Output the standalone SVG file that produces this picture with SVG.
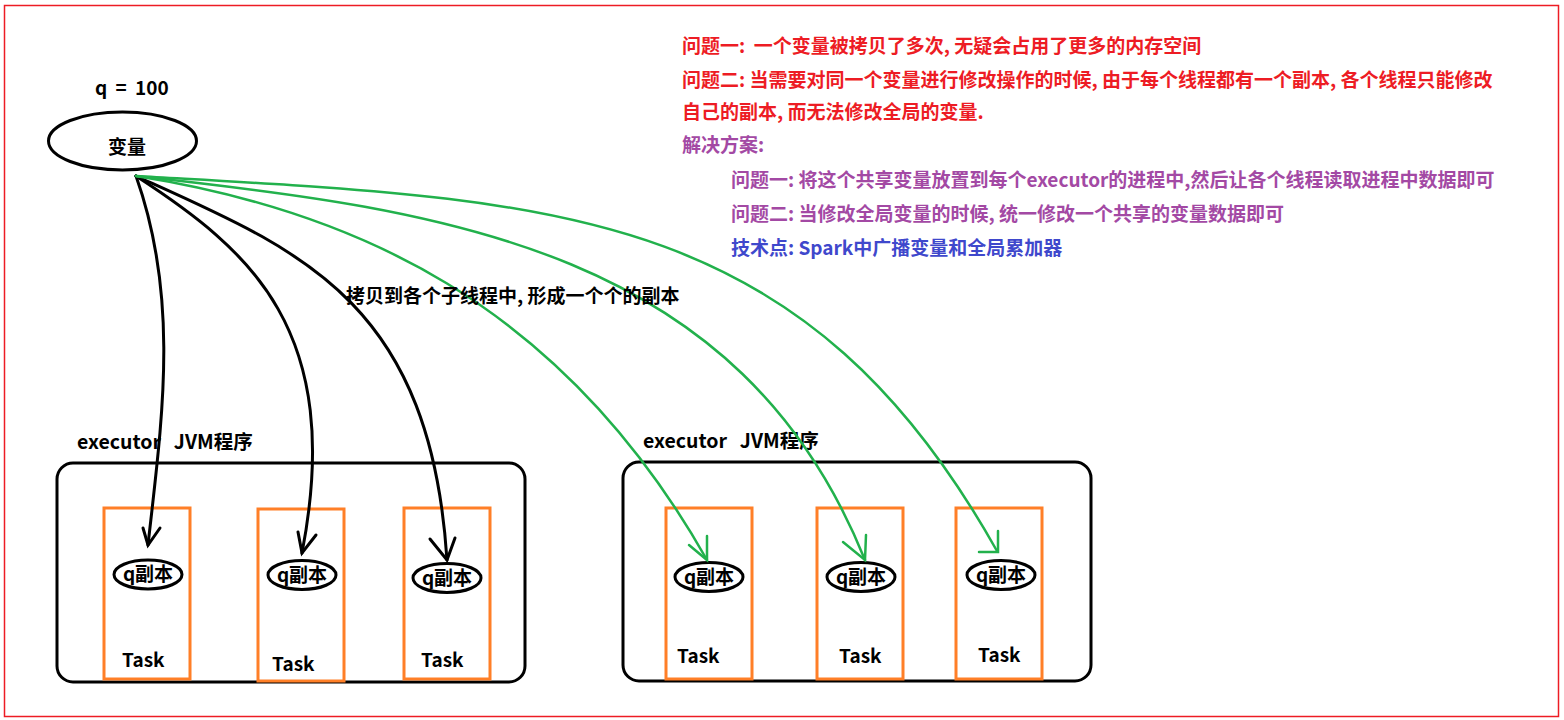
<svg xmlns="http://www.w3.org/2000/svg" width="1564" height="720" viewBox="0 0 1564 720">
<style>
text{font-family:"Noto Sans CJK SC","Microsoft YaHei",sans-serif;font-weight:bold;font-size:19px;fill:#000}
.red{fill:#ed1c24;font-size:19px}
.pur{fill:#a349a4;font-size:19px}
.blu{fill:#3f48cc;font-size:19px}
.lbl{font-size:19.5px;word-spacing:2px}
.box{fill:none;stroke:#000;stroke-width:3}
.task{fill:none;stroke:#ff7f27;stroke-width:3}
.oval{fill:#fff;stroke:#000;stroke-width:3}
.bk{fill:none;stroke:#000;stroke-width:3;stroke-linecap:round}
.gr{fill:none;stroke:#22b14c;stroke-width:2.5;stroke-linecap:round}
</style>
<rect x="0" y="0" width="1564" height="720" fill="#fff"/>
<rect x="4.5" y="5.5" width="1554" height="711" fill="none" stroke="#ed1c24" stroke-width="1.5"/>

<g id="notes">
<text class="red" x="682" y="53" xml:space="preserve">问题一:  一个变量被拷贝了多次, 无疑会占用了更多的内存空间</text>
<text class="red" x="682" y="87">问题二: 当需要对同一个变量进行修改操作的时候, 由于每个线程都有一个副本, 各个线程只能修改</text>
<text class="red" x="682" y="119">自己的副本, 而无法修改全局的变量.</text>
<text class="pur" x="682" y="152">解决方案:</text>
<text class="pur" x="731" y="187">问题一: 将这个共享变量放置到每个executor的进程中,然后让各个线程读取进程中数据即可</text>
<text class="pur" x="731" y="221">问题二: 当修改全局变量的时候, 统一修改一个共享的变量数据即可</text>
<text class="blu" x="731" y="255">技术点: Spark中广播变量和全局累加器</text>
</g>

<g id="var">
<text x="95" y="95" font-size="20" word-spacing="4" xml:space="preserve">q = 100</text>
<ellipse class="oval" cx="122.5" cy="141" rx="74" ry="29"/>
<text x="127" y="154" font-size="19" text-anchor="middle">变量</text>
</g>

<g id="executor1">
<text class="lbl" x="77" y="449" xml:space="preserve">executor  JVM程序</text>
<rect class="box" x="57" y="463" width="468" height="219" rx="16"/>
</g>
<g id="task1-1">
<rect class="task" x="104" y="508" width="86" height="171"/>
<ellipse class="oval" cx="148" cy="574.5" rx="34" ry="14.5"/>
<text x="148" y="581" text-anchor="middle">q副本</text>
<text x="122" y="667">Task</text>
</g>
<g id="task1-2">
<rect class="task" x="258" y="509" width="86" height="172"/>
<ellipse class="oval" cx="302" cy="575" rx="34" ry="14.5"/>
<text x="302" y="582" text-anchor="middle">q副本</text>
<text x="272" y="671">Task</text>
</g>
<g id="task1-3">
<rect class="task" x="404" y="508" width="86" height="171"/>
<ellipse class="oval" cx="447" cy="578" rx="34" ry="14.5"/>
<text x="447" y="585" text-anchor="middle">q副本</text>
<text x="421" y="667">Task</text>
</g>

<g id="executor2">
<text class="lbl" x="643" y="448" xml:space="preserve">executor  JVM程序</text>
<rect class="box" x="623" y="462" width="468" height="219" rx="16"/>
</g>
<g id="task2-1">
<rect class="task" x="666" y="508" width="86" height="171"/>
<ellipse class="oval" cx="709" cy="577" rx="34" ry="14.5"/>
<text x="709" y="584" text-anchor="middle">q副本</text>
<text x="677" y="663">Task</text>
</g>
<g id="task2-2">
<rect class="task" x="817" y="508" width="86" height="171"/>
<ellipse class="oval" cx="861" cy="577" rx="34" ry="14.5"/>
<text x="861" y="584" text-anchor="middle">q副本</text>
<text x="839" y="663">Task</text>
</g>
<g id="task2-3">
<rect class="task" x="956" y="508" width="86" height="171"/>
<ellipse class="oval" cx="1001" cy="575" rx="34" ry="14.5"/>
<text x="1001" y="582" text-anchor="middle">q副本</text>
<text x="978" y="662">Task</text>
</g>

<g id="connectors">
<path class="bk" d="M136,176 C180,300 162,420 148,545"/>
<path class="bk" d="M143,528 L148,545 L160,528"/>
<path class="bk" d="M136,176 C250,250 345,330 302,553"/>
<path class="bk" d="M298,532 L302,553 L316,535"/>
<path class="bk" d="M136,176 C300,250 430,300 447,560"/>
<path class="bk" d="M430,539 L447,560 L455,538"/>
<path class="gr" d="M136,176 C350,210 560,300 707,560"/>
<path class="gr" d="M689,545 L707,560 L707,536"/>
<path class="gr" d="M136,176 C450,210 740,250 865,560"/>
<path class="gr" d="M843,542 L865,560 L866,535"/>
<path class="gr" d="M136,176 C550,200 800,200 997,551"/>
<path class="gr" d="M979,552 L998,552 L998,531"/>
<text x="346" y="303">拷贝到各个子线程中, 形成一个个的副本</text>
</g>
</svg>
